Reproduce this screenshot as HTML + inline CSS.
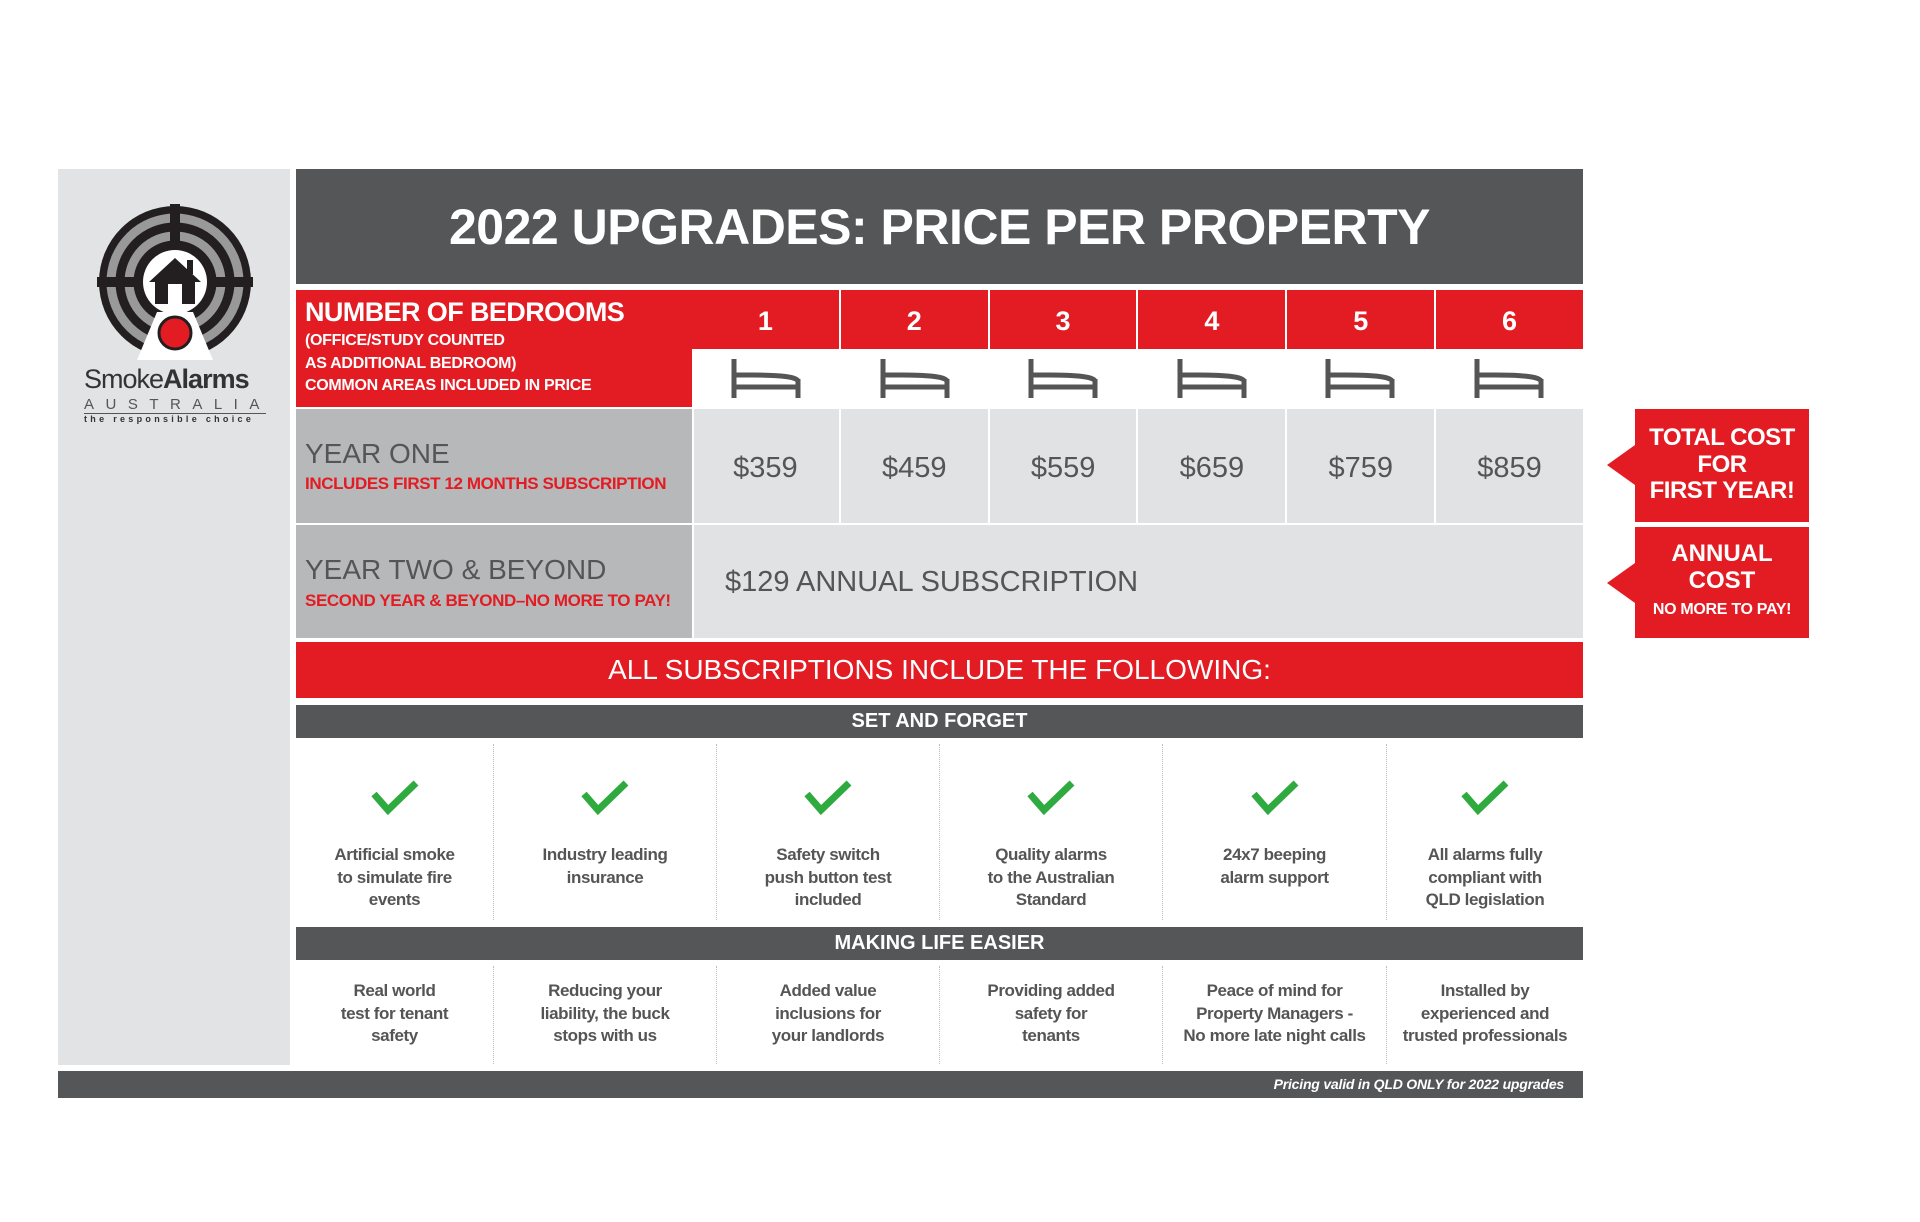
<!DOCTYPE html>
<html><head><meta charset="utf-8"><style>
*{margin:0;padding:0;box-sizing:border-box}
body{width:1920px;height:1222px;background:#fff;position:relative;overflow:hidden;font-family:"Liberation Sans",Arial,sans-serif}
.a{position:absolute}
.red{background:#e31b23}
.dk{background:#555657}
.c{text-align:center}
.num{color:#fff;font-weight:bold;font-size:27px;line-height:63px;height:59px}
.price{color:#555;font-size:29px;line-height:118px}
.ft{color:#555;font-weight:bold;font-size:17px;line-height:22.5px;letter-spacing:-0.4px}
.div{border-left:1px dotted #bbb}
.tag{color:#fff;font-weight:bold;text-align:center}
</style></head><body>
<div class="a" style="left:58px;top:169px;width:232px;height:896px;background:#e1e3e4"></div>
<svg class="a" style="left:95px;top:200px" width="160" height="170" viewBox="0 0 160 170">
<circle cx="80" cy="82" r="76" fill="#231f20"/>
<circle cx="80" cy="82" r="64" fill="none" stroke="#999" stroke-width="9"/>
<circle cx="80" cy="82" r="46" fill="none" stroke="#999" stroke-width="9"/>
<rect x="75" y="4" width="10" height="156" fill="#231f20"/>
<rect x="2" y="77" width="156" height="10" fill="#231f20"/>
<circle cx="80" cy="82" r="32" fill="#fff"/>
<polygon points="62,112 98,112 118,160 42,160" fill="#fff"/>
<polygon points="80,58 54,82 60,82 60,104 100,104 100,82 106,82" fill="#231f20"/>
<rect x="73" y="84" width="14" height="20" fill="#fff"/>
<rect x="92" y="60" width="6" height="14" fill="#231f20"/>
<circle cx="80" cy="133" r="16" fill="#e31b23" stroke="#231f20" stroke-width="3"/>
</svg>
<div class="a" style="left:84px;top:364px;font-size:27px;color:#333;letter-spacing:-1px">Smoke<b>Alarms</b></div>
<div class="a" style="left:84px;top:396px;font-size:15px;color:#555;letter-spacing:11.5px">AUSTRALIA</div>
<div class="a" style="left:84px;top:413px;width:182px;border-top:1px solid #555;font-size:9px;color:#333;letter-spacing:3.3px;font-weight:bold">the responsible choice</div>

<div class="a dk c" style="left:296px;top:169px;width:1287px;height:115px;color:#fff;font-weight:bold;font-size:50px;line-height:117px;letter-spacing:-0.5px">2022 UPGRADES: PRICE PER PROPERTY</div>

<div class="a red" style="left:296px;top:290px;width:396px;height:117px;color:#fff;font-weight:bold;padding:7px 0 0 9px">
<div style="font-size:27px;line-height:30px;letter-spacing:-0.6px">NUMBER OF BEDROOMS</div>
<div style="font-size:16px;line-height:22.5px;letter-spacing:-0.3px;margin-top:3px">(OFFICE/STUDY COUNTED<br>AS ADDITIONAL BEDROOM)<br>COMMON AREAS INCLUDED IN PRICE</div>
</div>
<div class="a red" style="left:692px;top:290px;width:891px;height:59px"></div>
<div class="a" style="left:692px;top:349px;width:891px;height:58px;background:#fff"></div>
<div class="a" style="left:296px;top:409px;width:396px;height:114px;background:#b7b8b9"></div>
<div class="a" style="left:694px;top:409px;width:889px;height:114px;background:#e0e2e3"></div>
<div class="a" style="left:296px;top:525px;width:396px;height:113px;background:#b7b8b9"></div>
<div class="a" style="left:694px;top:525px;width:889px;height:113px;background:#e0e2e3"></div>

<div class="a" style="left:305px;top:438px;font-size:28px;color:#555">YEAR ONE</div>
<div class="a" style="left:305px;top:474px;font-size:17px;color:#e31b23;font-weight:bold;letter-spacing:-0.4px">INCLUDES FIRST 12 MONTHS SUBSCRIPTION</div>
<div class="a" style="left:305px;top:554px;font-size:28px;color:#555">YEAR TWO &amp; BEYOND</div>
<div class="a" style="left:305px;top:591px;font-size:17px;color:#e31b23;font-weight:bold;letter-spacing:-0.4px">SECOND YEAR &amp; BEYOND–NO MORE TO PAY!</div>
<div class="a" style="left:725px;top:566px;font-size:29px;color:#555">$129 ANNUAL SUBSCRIPTION</div>

<div class="a" style="left:692px;top:290px;width:891px;height:233px;display:flex">
<div style="flex:1;border-right:2px solid #fff"><div class="c num">1</div><div style="height:60px"></div><div class="c price">$359</div></div>
<div style="flex:1;border-right:2px solid #fff"><div class="c num">2</div><div style="height:60px"></div><div class="c price">$459</div></div>
<div style="flex:1;border-right:2px solid #fff"><div class="c num">3</div><div style="height:60px"></div><div class="c price">$559</div></div>
<div style="flex:1;border-right:2px solid #fff"><div class="c num">4</div><div style="height:60px"></div><div class="c price">$659</div></div>
<div style="flex:1;border-right:2px solid #fff"><div class="c num">5</div><div style="height:60px"></div><div class="c price">$759</div></div>
<div style="flex:1"><div class="c num">6</div><div style="height:60px"></div><div class="c price">$859</div></div>
</div>
<svg class="a" style="left:692px;top:349px" width="891" height="58">
<defs><g id="bed" fill="none" stroke="#555" stroke-width="5" stroke-linejoin="round"><path d="M-32,10 V49 M32,30 V49 M-32,38 H32 M-32,26 H-14 Q30,26 32,32"/></g></defs>
<use href="#bed" x="74"/><use href="#bed" x="223"/><use href="#bed" x="371"/><use href="#bed" x="520"/><use href="#bed" x="668"/><use href="#bed" x="817"/>
</svg>

<svg class="a" style="left:1600px;top:405px" width="215" height="240">
<polygon points="35,4 209,4 209,117 35,117 35,80 7,60 35,40" fill="#e31b23"/>
<polygon points="35,122 209,122 209,233 35,233 35,198 7,178 35,158" fill="#e31b23"/>
</svg>
<div class="a tag" style="left:1635px;top:425px;width:174px;font-size:24px;line-height:26.5px;letter-spacing:-0.5px">TOTAL COST<br>FOR<br>FIRST YEAR!</div>
<div class="a tag" style="left:1635px;top:541px;width:174px;font-size:24px;line-height:26.5px">ANNUAL<br>COST</div>
<div class="a tag" style="left:1635px;top:601px;width:174px;font-size:16px;letter-spacing:-0.3px">NO MORE TO PAY!</div>

<div class="a red c" style="left:296px;top:642px;width:1287px;height:56px;color:#fff;font-size:28px;line-height:56px">ALL SUBSCRIPTIONS INCLUDE THE FOLLOWING:</div>
<div class="a dk c" style="left:296px;top:705px;width:1287px;height:33px;color:#fff;font-weight:bold;font-size:20px;line-height:33px">SET AND FORGET</div>
<div class="a dk c" style="left:296px;top:927px;width:1287px;height:33px;color:#fff;font-weight:bold;font-size:20px;line-height:33px">MAKING LIFE EASIER</div>
<div class="a dk" style="left:58px;top:1071px;width:1525px;height:27px;color:#fff;font-weight:bold;font-style:italic;font-size:14px;line-height:27px;text-align:right;padding-right:19px;letter-spacing:-0.2px">Pricing valid in QLD ONLY for 2022 upgrades</div>

<div class="a" style="left:296px;top:744px;width:1287px;height:176px;display:flex">
<div class="c" style="width:197px"><svg width="50" height="38" style="margin-top:35px"><path d="M4,15 L18,31 L46,4" fill="none" stroke="#2eaa3e" stroke-width="7"/></svg><div class="ft" style="margin-top:22px">Artificial smoke<br>to simulate fire<br>events</div></div>
<div class="c div" style="width:223px"><svg width="50" height="38" style="margin-top:35px"><path d="M4,15 L18,31 L46,4" fill="none" stroke="#2eaa3e" stroke-width="7"/></svg><div class="ft" style="margin-top:22px">Industry leading<br>insurance</div></div>
<div class="c div" style="width:223px"><svg width="50" height="38" style="margin-top:35px"><path d="M4,15 L18,31 L46,4" fill="none" stroke="#2eaa3e" stroke-width="7"/></svg><div class="ft" style="margin-top:22px">Safety switch<br>push button test<br>included</div></div>
<div class="c div" style="width:223px"><svg width="50" height="38" style="margin-top:35px"><path d="M4,15 L18,31 L46,4" fill="none" stroke="#2eaa3e" stroke-width="7"/></svg><div class="ft" style="margin-top:22px">Quality alarms<br>to the Australian<br>Standard</div></div>
<div class="c div" style="width:224px"><svg width="50" height="38" style="margin-top:35px"><path d="M4,15 L18,31 L46,4" fill="none" stroke="#2eaa3e" stroke-width="7"/></svg><div class="ft" style="margin-top:22px">24x7 beeping<br>alarm support</div></div>
<div class="c div" style="width:197px"><svg width="50" height="38" style="margin-top:35px"><path d="M4,15 L18,31 L46,4" fill="none" stroke="#2eaa3e" stroke-width="7"/></svg><div class="ft" style="margin-top:22px">All alarms fully<br>compliant with<br>QLD legislation</div></div>
</div>
<div class="a" style="left:296px;top:966px;width:1287px;height:98px;display:flex">
<div class="c" style="width:197px"><div class="ft" style="margin-top:14px">Real world<br>test for tenant<br>safety</div></div>
<div class="c div" style="width:223px"><div class="ft" style="margin-top:14px">Reducing your<br>liability, the buck<br>stops with us</div></div>
<div class="c div" style="width:223px"><div class="ft" style="margin-top:14px">Added value<br>inclusions for<br>your landlords</div></div>
<div class="c div" style="width:223px"><div class="ft" style="margin-top:14px">Providing added<br>safety for<br>tenants</div></div>
<div class="c div" style="width:224px"><div class="ft" style="margin-top:14px">Peace of mind for<br>Property Managers -<br>No more late night calls</div></div>
<div class="c div" style="width:197px"><div class="ft" style="margin-top:14px">Installed by<br>experienced and<br>trusted professionals</div></div>
</div>
</body></html>
